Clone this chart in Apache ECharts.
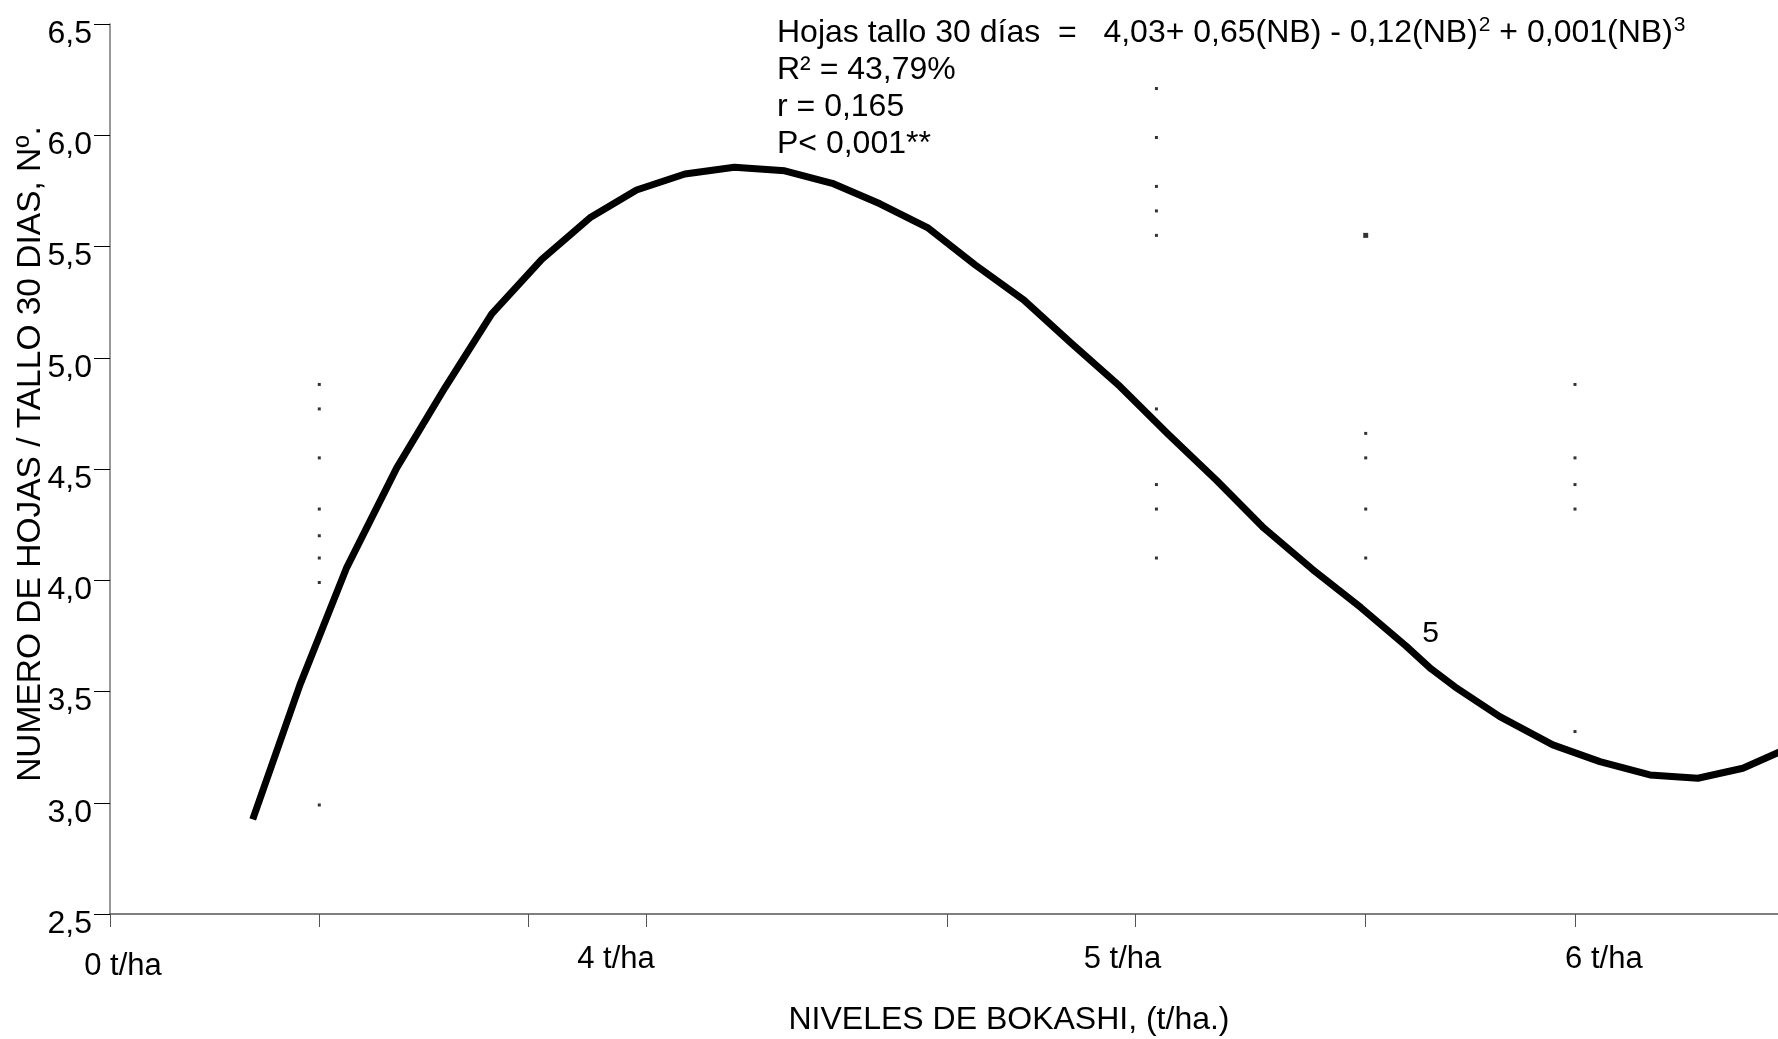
<!DOCTYPE html>
<html><head><meta charset="utf-8">
<script src="https://cdn.jsdelivr.net/npm/echarts@6/dist/echarts.min.js"></script>
<style>html,body{margin:0;padding:0;background:#fff}#c{width:1778px;height:1039px}</style>
</head><body><div id="c"></div>
<script>
// ---- data ----
// fitted curve (x in axis units, y = leaves per stem)
const curveX = [0.682, 0.908, 1.131, 1.370, 1.601, 1.824, 2.063, 2.293, 2.516, 2.747, 2.983, 3.224, 3.451, 3.679, 3.906, 4.133, 4.367, 4.594, 4.826, 5.055, 5.288, 5.514, 5.743, 5.977, 6.192, 6.312, 6.426, 6.641, 6.894, 7.119, 7.358, 7.587, 7.802, 8.030];
const curveY = [2.925, 3.531, 4.057, 4.505, 4.866, 5.197, 5.442, 5.629, 5.754, 5.826, 5.856, 5.840, 5.784, 5.692, 5.585, 5.418, 5.259, 5.065, 4.871, 4.657, 4.448, 4.234, 4.051, 3.877, 3.705, 3.602, 3.521, 3.387, 3.260, 3.185, 3.125, 3.110, 3.155, 3.250];
// observed points, one array per column
const col1X = 1, col1Y = [4.88, 4.77, 4.55, 4.32, 4.20, 4.10, 3.99, 2.99];
const col5X = 5, col5Y = [6.21, 5.99, 5.77, 5.66, 5.55, 4.77, 4.43, 4.32, 4.10];
const col6X = 6, col6Y = [4.66, 4.55, 4.32, 4.10];
const col6OverlapY = [5.55];
const col7X = 7, col7Y = [4.88, 4.55, 4.43, 4.32, 3.32];
// axis ticks / labels
const yMin = 2.5, yMax = 6.5, yStep = 0.5;
const xMin = 0, xMax = 7.97;
const xTickPos = [0, 1, 2, 2.56, 4, 4.9, 6, 7];
const xLabelPos = [0.062, 2.418, 4.838, 7.138];
const xLabelText = ['0 t/ha', '4 t/ha', '5 t/ha', '6 t/ha'];
const curveNote = {x: 6.31, y: 3.76, text: '5'};
const yTitle = 'NUMERO DE HOJAS / TALLO 30 DIAS, Nº.';
const xTitle = 'NIVELES DE BOKASHI, (t/ha.)';
const eqLines = [
  '{m|Hojas tallo 30 días  =   4,03+ 0,65(NB) - 0,12(NB)}{s|2}{m| + 0,001(NB)}{s|3}',
  '{m|R² = 43,79%}',
  '{m|r = 0,165}',
  '{m|P< 0,001**}'
];

// ---- chart ----
const FF = '"Liberation Sans", Arial, sans-serif';
const pts = (x, ys) => ys.map(y => [x, y]);
const dots = [].concat(pts(col1X, col1Y), pts(col5X, col5Y), pts(col6X, col6Y), pts(col7X, col7Y));

const chart = echarts.init(document.getElementById('c'), null, {renderer: 'canvas'});
chart.setOption({
  backgroundColor: '#fff',
  animation: false,
  title: {
    text: eqLines.join('\n'),
    left: 772, top: 10,
    textStyle: {
      fontFamily: FF, fontSize: 32, fontWeight: 'normal', color: '#000', lineHeight: 37,
      rich: {
        m: {fontFamily: FF, fontSize: 32, color: '#000', lineHeight: 37},
        s: {fontFamily: FF, fontSize: 21, color: '#000', verticalAlign: 'top', lineHeight: 37, padding: [0, 0, 0, 1]}
      }
    }
  },
  grid: {left: 110, right: 0, top: 24, bottom: 125, containLabel: false, outerBoundsMode: 'none'},
  xAxis: {
    type: 'value', min: xMin, max: xMax,
    axisLine: {show: true, onZero: false, lineStyle: {color: '#555', width: 1.5}},
    axisTick: {show: true, customValues: xTickPos, length: 13, lineStyle: {color: '#555', width: 1}},
    axisLabel: {
      show: true, customValues: xLabelPos, margin: 30, fontFamily: FF, fontSize: 31, color: '#000',
      formatter: function (v) {
        let best = 0;
        xLabelPos.forEach((p, i) => { if (Math.abs(p - v) < Math.abs(xLabelPos[best] - v)) best = i; });
        return best === 0 ? '{low|' + xLabelText[best] + '}' : xLabelText[best];
      },
      rich: {low: {fontFamily: FF, fontSize: 31, color: '#000', lineHeight: 44}}
    },
    splitLine: {show: false},
    name: xTitle, nameLocation: 'middle', nameGap: 90, nameMoveOverlap: false,
    nameTextStyle: {fontFamily: FF, fontSize: 32, color: '#000', padding: [0, 0, 0, 130]}
  },
  yAxis: {
    type: 'value', min: yMin, max: yMax, interval: yStep,
    axisLine: {show: true, onZero: false, lineStyle: {color: '#777', width: 1.5}},
    axisTick: {show: true, length: 16, lineStyle: {color: '#000', width: 1}},
    axisLabel: {
      show: true, margin: 18, fontFamily: FF, fontSize: 32, color: '#000',
      verticalAlign: 'top', lineHeight: 20,
      formatter: v => v.toFixed(1).replace('.', ',')
    },
    splitLine: {show: false},
    name: yTitle, nameLocation: 'middle', nameRotate: 90, nameGap: 62, nameMoveOverlap: false,
    nameTextStyle: {fontFamily: FF, fontSize: 33.5, color: '#000', padding: [0, 0, 0, 30]}
  },
  series: [
    {
      type: 'line', name: 'Ajuste', data: curveX.map((x, i) => [x, curveY[i]]),
      showSymbol: false, symbol: 'none', smooth: false, clip: true,
      lineStyle: {color: '#000', width: 7, cap: 'butt', join: 'round'},
      markPoint: {
        symbol: 'circle', symbolSize: 1, itemStyle: {color: 'rgba(0,0,0,0)'},
        label: {show: true, position: 'inside', formatter: curveNote.text, fontFamily: FF, fontSize: 30, color: '#000'},
        data: [{coord: [curveNote.x, curveNote.y], value: curveNote.text}]
      },
      z: 3
    },
    {
      type: 'scatter', name: 'Observado', data: dots,
      symbol: 'rect', symbolSize: 3, itemStyle: {color: '#000'}, z: 4
    },
    {
      type: 'scatter', name: 'Observado (superpuesto)', data: pts(col6X, col6OverlapY),
      symbol: 'rect', symbolSize: 5, itemStyle: {color: '#000'}, z: 4
    }
  ]
});
</script>
</body></html>
